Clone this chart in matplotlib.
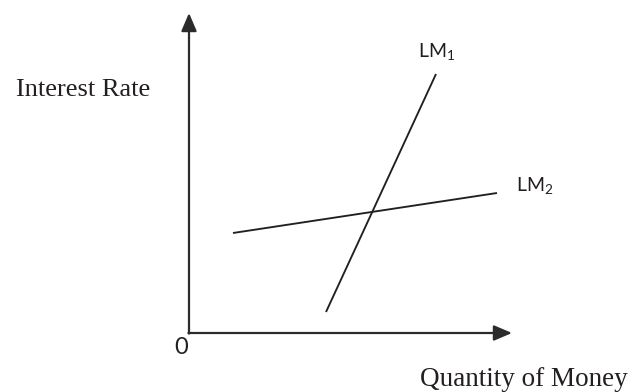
import matplotlib
matplotlib.use("Agg")
import matplotlib.pyplot as plt

plt.rcParams['mathtext.fontset'] = 'custom'
plt.rcParams['mathtext.rm'] = 'Lato'
plt.rcParams['mathtext.it'] = 'Lato:italic'

# Data (diagram units: origin at 0,0)
x_axis_end = 323
y_axis_end = 320
lm1_x = [137, 247]
lm1_y = [21, 259]
lm2_x = [44, 308]
lm2_y = [100, 140]
labels = {"lm1": r"LM$_\mathrm{1}$", "lm2": r"LM$_\mathrm{2}$"}
y_label = "Interest Rate"
x_label = "Quantity of Money"
origin_label = "0"

fig = plt.figure(figsize=(6.3, 3.92), dpi=100)
ax = fig.add_axes([0, 0, 1, 1])
ax.set_xlim(-189, 441)
ax.set_ylim(-59, 333)
ax.axis('off')

col = '#231f20'
ap = dict(arrowstyle='-|>,head_length=1.1,head_width=0.47', lw=1.6, color='#2b2b2b',
          mutation_scale=10, shrinkA=0, shrinkB=0)
ax.annotate('', xy=(x_axis_end, 0), xytext=(-0.6, 0), arrowprops=ap)
ax.annotate('', xy=(0, y_axis_end), xytext=(0, -0.6), arrowprops=ap)

ax.plot(lm1_x, lm1_y, color=col, lw=1.35, solid_capstyle='butt')
ax.plot(lm2_x, lm2_y, color=col, lw=1.35, solid_capstyle='butt')

ax.text(229, 276, labels["lm1"], fontfamily='Lato', fontsize=14, color=col,
        ha='left', va='baseline')
ax.text(327, 142, labels["lm2"], fontfamily='Lato', fontsize=14, color=col,
        ha='left', va='baseline')
ax.text(-7.5, -14.5, origin_label, fontfamily='Lato', fontsize=17, color=col,
        ha='center', va='center')
ax.text(-39, 237, y_label, fontfamily='Liberation Serif', fontsize=19, color=col,
        ha='right', va='baseline')
ax.text(231, -53, x_label, fontfamily='Liberation Serif', fontsize=19.5, color=col,
        ha='left', va='baseline')

fig.savefig('out.png', dpi=100)
